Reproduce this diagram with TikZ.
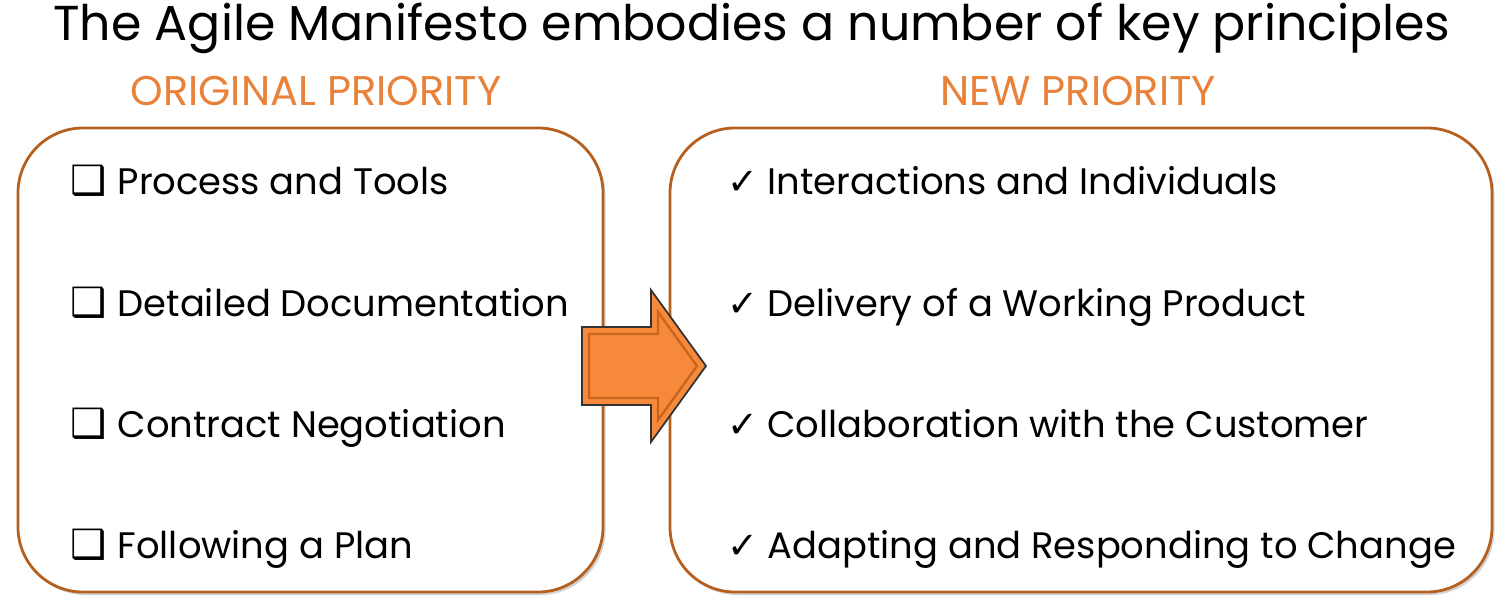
\documentclass[tikz,border=0pt]{standalone}
\usepackage{fontspec}
\setmainfont{Poppins}
\newfontfamily\symfont{DejaVu Sans}
\usetikzlibrary{shadows}
\definecolor{agileorange}{HTML}{E8823A}
\definecolor{boxbrown}{HTML}{B5601E}
\definecolor{arrowfill}{HTML}{F78A3A}
\definecolor{arrowedge}{HTML}{C8641E}
\tikzset{
  prioritybox/.style={draw=boxbrown, line width=1.6pt, rounded corners=1.3cm, fill=white,
    drop shadow={shadow xshift=0.5mm, shadow yshift=-0.6mm, fill=black!35, opacity=0.5}},
  headtext/.style={text=agileorange, font=\fontsize{23.6}{28}\selectfont},
  itemtext/.style={anchor=base west, font=\fontsize{21}{25}\selectfont, inner sep=0pt},
}
\begin{document}
\begin{tikzpicture}[x=0.02cm, y=-0.02cm]
      \useasboundingbox (0,0) rectangle (1504,612);
      \node (title) at (752,28) {\fontsize{27.9}{32}\selectfont The Agile Manifesto embodies a number of key principles};
      \node[headtext] (orighead) at (316,91) {ORIGINAL PRIORITY};
      \node[headtext] (newhead) at (1078,91) {NEW PRIORITY};
      % boxes
      \draw[prioritybox] (18,128) rectangle (603,592);
      \draw[prioritybox] (670,128) rectangle (1492,592);
      % arrow
      \draw[fill=arrowfill, draw=black!80, line width=1pt]
        (582,327) -- (651,327) -- (651,290) -- (706,366) -- (651,442)
        -- (651,405) -- (582,405) -- cycle;
      \draw[arrowedge, line width=1.3pt]
        (589,334) -- (658,334) -- (658,312) -- (697,366) -- (658,420)
        -- (658,398) -- (589,398) -- cycle;
      % original items
      \begin{scope}[every node/.style={itemtext}]
        \node (o1) at (70,194) {{\symfont\fontsize{23}{25}\selectfont\char"2751}\hspace{0.3em}Process and Tools};
        \node (o2) at (70,316) {{\symfont\fontsize{23}{25}\selectfont\char"2751}\hspace{0.3em}Detailed Documentation};
        \node (o3) at (70,437) {{\symfont\fontsize{23}{25}\selectfont\char"2751}\hspace{0.3em}Contract Negotiation};
        \node (o4) at (70,558) {{\symfont\fontsize{23}{25}\selectfont\char"2751}\hspace{0.3em}Following a Plan};
        \node (n1) at (727,194) {{\symfont\char"2713}\hspace{0.25em}Interactions and Individuals};
        \node (n2) at (727,316) {{\symfont\char"2713}\hspace{0.25em}Delivery of a Working Product};
        \node (n3) at (727,437) {{\symfont\char"2713}\hspace{0.25em}Collaboration with the Customer};
        \node (n4) at (727,558) {{\symfont\char"2713}\hspace{0.25em}Adapting and Responding to Change};
      \end{scope}
    \end{tikzpicture}
\end{document}
